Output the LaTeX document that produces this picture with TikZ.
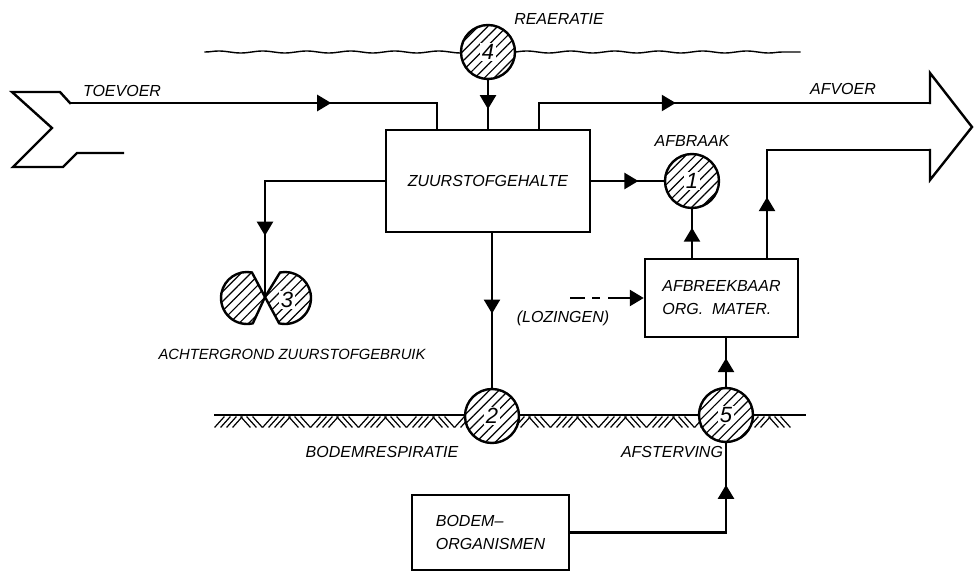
\documentclass[tikz,border=0pt]{standalone}
\usepackage{fontspec}
\setmainfont{Liberation Sans}
\usetikzlibrary{positioning,arrows.meta,decorations.markings,decorations.pathmorphing,patterns.meta}

\begin{document}
\begin{tikzpicture}[
    x=0.5pt, y=-0.5pt,
    line width=1.2pt, line cap=rect,
    lbl/.style={font=\fontsize{8}{9.6}\selectfont\itshape, inner sep=0pt},
    blok/.style={rectangle, draw, align=left, font=\fontsize{8}{11.5}\selectfont\itshape},
    arcering/.style={draw, preaction={fill=white}, pattern={Lines[angle=45,distance=3.4pt,line width=0.6pt]}},
    proces/.style={circle, arcering, minimum size=27pt, inner sep=0pt},
    nummer/.style={fill=white, inner sep=0.7pt, font=\fontsize{11}{11}\selectfont\itshape},
    stroom/.style={postaction={decorate}, decoration={markings, mark=at position #1 with {\arrow{Triangle[length=7pt,width=8pt]}}}},
    grond/.style={line width=0.6pt}
]
\useasboundingbox (0,0) rectangle (976,572);

\draw[line width=0.7pt, decorate, decoration={snake, amplitude=0.5pt, segment length=22pt}] (205,52) -- (800,52);
\draw (215,415) -- (805,415);
\foreach \x in {215,263,...,760} {
    \foreach \d in {0,6,12,18} \draw[grond] (\x+\d,427) -- (\x+\d+9,417);
    \foreach \d in {26,32,38} \draw[grond] (\x+\d,417) -- (\x+\d+9,427);
}

\node[blok, minimum width=102pt, minimum height=51pt] (zuurstof) at (488,181) {ZUURSTOFGEHALTE};
\node[blok, minimum width=76.5pt, minimum height=39pt] (afbreekbaar) at (721.5,298) {AFBREEKBAAR\\ORG.\ \ MATER.};
\node[blok, minimum width=78.5pt, minimum height=37.5pt] (bodemorg) at (490.5,532.5) {BODEM--\\ORGANISMEN};

\node[proces] (reaeratie) at (488,52) {};
\node[proces] (afbraak) at (692,181) {};
\node[proces] (bodemresp) at (492,416) {};
\node[proces] (afsterving) at (726,415) {};
\node[nummer] (reaeratie-nr) at (reaeratie) {4};
\node[nummer] (afbraak-nr) at (afbraak) {1};
\node[nummer] (bodemresp-nr) at (bodemresp) {2};
\node[nummer] (afsterving-nr) at (afsterving) {5};

\coordinate (achtergrond) at (265,297);
\draw[arcering] (247,298) ++(79:13pt) arc[start angle=79, end angle=283, radius=13pt] -- (achtergrond) -- cycle;
\draw[arcering] (285,298) ++(101:13pt) arc[start angle=101, end angle=-103, radius=13pt] -- (achtergrond) -- cycle;
\node[nummer] (achtergrond-nr) at (287,300) {3};

\coordinate (toevoer-in) at (70,103);
\coordinate (toevoer-knik) at (437,103);
\draw (123,153) -- (77,153) -- (63,167) -- (13,167) -- (52,128) -- (12,92) -- (60,92) -- (toevoer-in);
\draw[stroom=0.665] (toevoer-in) -- (toevoer-knik) -- (toevoer-knik |- zuurstof.north);

\coordinate (afvoer-knik) at (539,103);
\coordinate (afvoer-boven) at (930,103);
\coordinate (afvoer-onder) at (930,150);
\coordinate (afvoer-knik2) at (767,150);
\draw[stroom=0.39] (afvoer-knik |- zuurstof.north) -- (afvoer-knik) -- (afvoer-boven);
\draw (afvoer-boven) -- (930,73) -- (972,127) -- (930,180) -- (afvoer-onder);
\draw[stroom=0.224] (afvoer-knik2 |- afbreekbaar.north) -- (afvoer-knik2) -- (afvoer-onder);

\draw[stroom=0.6] (reaeratie) -- (zuurstof);
\draw[stroom=0.65] (zuurstof) -- (afbraak);
\draw[stroom=0.74] (zuurstof.west) -- (zuurstof.west -| achtergrond) -- (achtergrond);
\draw[stroom=0.52] (bodemresp |- zuurstof.south) -- (bodemresp);
\draw[stroom=0.62] (afbraak |- afbreekbaar.north) -- (afbraak);
\draw[stroom=0.59] (afsterving) -- (afsterving |- afbreekbaar.south);
\draw[stroom=0.83] (bodemorg.east) -- (bodemorg.east -| afsterving) -- (afsterving);

\coordinate (lozingen-in) at (570,298);
\draw[-{Triangle[length=7pt,width=8pt]}, line cap=butt, dash pattern=on 7.5pt off 3.5pt on 4pt off 4pt on 40pt] (lozingen-in) -- (afbreekbaar.west);

\node[lbl] (toevoer-t) at (122,91) {TOEVOER};
\node[lbl] (afvoer-t) at (843,89) {AFVOER};
\node[lbl] (reaeratie-t) at (559,19) {REAERATIE};
\node[lbl, above=2.5pt of afbraak] (afbraak-t) {AFBRAAK};
\node[lbl, font=\fontsize{7.4}{9}\selectfont\itshape] (achtergrond-t) at (292,354) {ACHTERGROND ZUURSTOFGEBRUIK};
\node[lbl] (bodemresp-t) at (382,452) {BODEMRESPIRATIE};
\node[lbl] (afsterving-t) at (672,452) {AFSTERVING};
\node[lbl] (lozingen-t) at (563,318) {(LOZINGEN)};

\end{tikzpicture}
\end{document}
